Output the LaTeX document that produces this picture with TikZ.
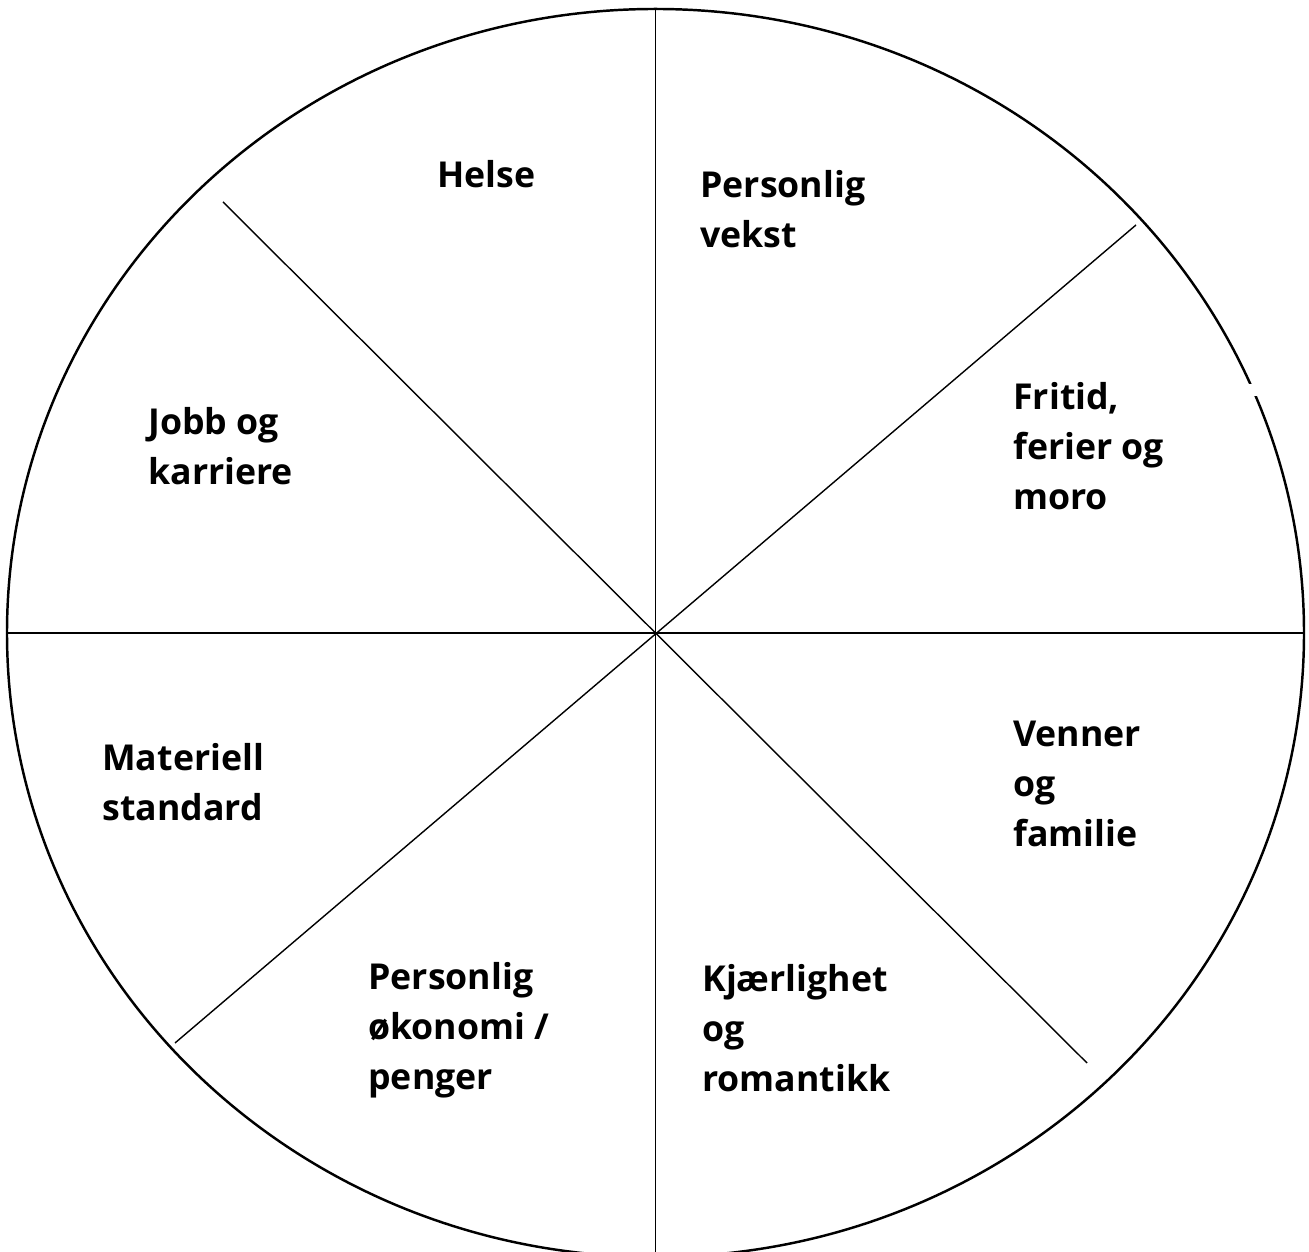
\documentclass[tikz,border=0pt]{standalone}
\usepackage{fontspec}
\setmainfont{Open Sans}
\usetikzlibrary{calc}

\tikzset{
  rim/.style={black, line width=1.4pt},
  spoke/.style={black, line width=0.8pt},
  lbl/.style={anchor=base west, inner sep=0pt, align=left,
    font=\fontsize{20.3}{28.7}\selectfont\bfseries}
}

\begin{document}
\begin{tikzpicture}

% Page
\useasboundingbox (0,0) rectangle (26.18,25.04);
\clip (0,0) rectangle (26.18,25.04);

\coordinate (hub) at (13.11,12.38);

% Wheel rim
\draw[rim] (hub) ellipse [x radius=12.97, y radius=12.48];
% small break in the rim
\fill[white] (24.90,17.12) rectangle (25.26,17.36);

% Spokes
\draw[spoke] (13.11,24.86) -- (13.11,0);
\draw[spoke] (0.14,12.38) -- (26.08,12.38);
\draw[spoke] (4.46,21.00) -- (21.74,3.78);
\draw[spoke] (22.72,20.54) -- (3.50,4.18);

% Sector labels (placed at the baseline of the last line)
\node[lbl] (helse) at (8.74,21.28) {Helse};
\node[lbl] (vekst) at (14.00,20.08) {Personlig\\vekst};
\node[lbl] (fritid) at (20.26,14.84) {Fritid,\\ferier og\\moro};
\node[lbl] (jobb) at (2.96,15.34) {Jobb og\\karriere};
\node[lbl] (materiell) at (2.04,8.62) {Materiell\\standard};
\node[lbl] (venner) at (20.26,8.10) {Venner\\og\\familie};
\node[lbl] (okonomi) at (7.36,3.24) {Personlig\\økonomi /\\penger};
\node[lbl] (kjaerlighet) at (14.04,3.20) {Kjærlighet\\og\\romantikk};

\end{tikzpicture}
\end{document}
